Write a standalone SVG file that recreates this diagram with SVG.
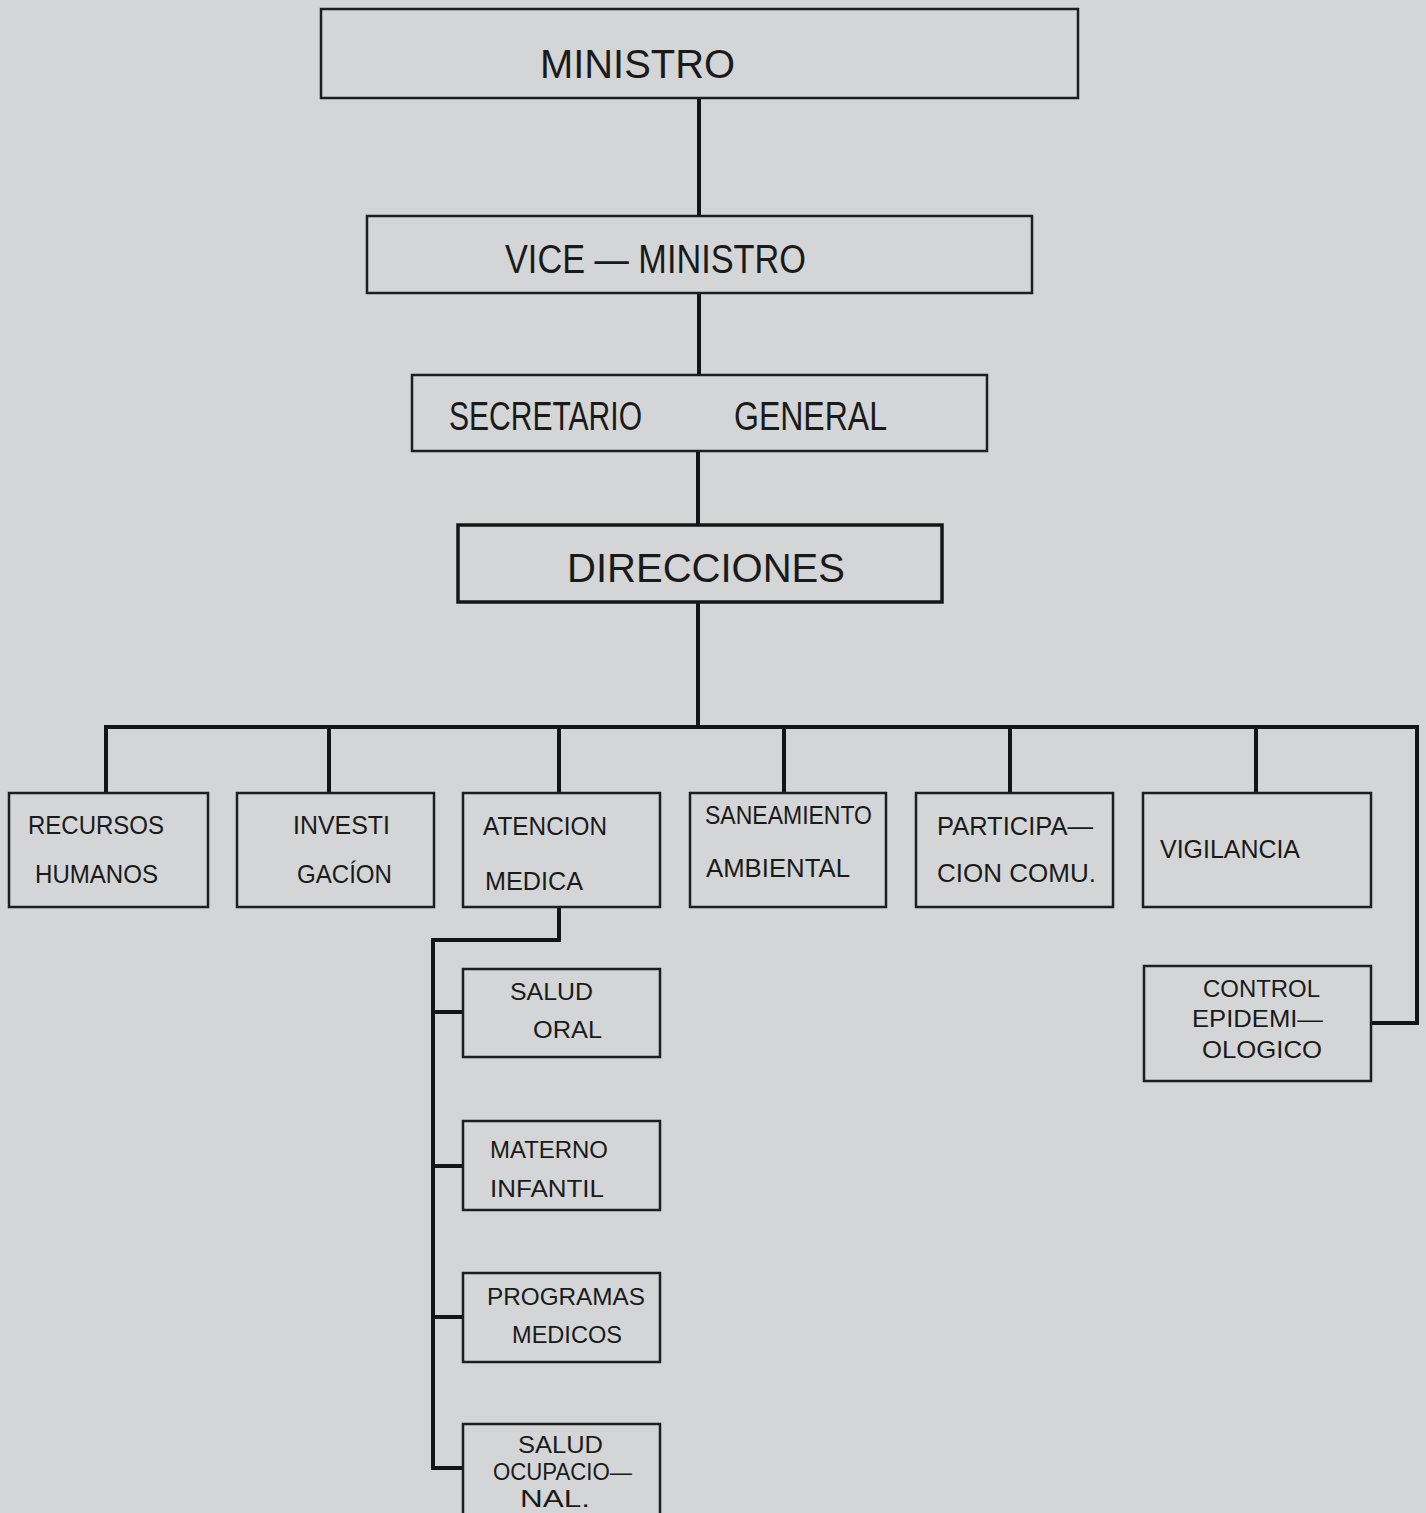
<svg xmlns="http://www.w3.org/2000/svg" width="1426" height="1513" viewBox="0 0 1426 1513">
<style>
.box{fill:none;stroke:#1e1e1e;stroke-width:2.5}
.boxb{fill:none;stroke:#161616;stroke-width:3.5}
.con{fill:none;stroke:#141414;stroke-width:4;stroke-linejoin:miter}
text{font-family:"Liberation Sans",Arial,sans-serif;fill:#1a1a1a}
.t1{font-size:40px}
.t2{font-size:25px}
.t3{font-size:24px}
.t4{font-size:23px}
</style>
<rect x="0" y="0" width="1426" height="1513" fill="#d3d5d7"/>
<g id="connectors">
<path class="con" d="M699,98 V216"/>
<path class="con" d="M699,293 V375"/>
<path class="con" d="M698,451 V525"/>
<path class="con" d="M698,602 V727"/>
<path class="con" d="M106,793 V727 H1417 V1023 H1372"/>
<path class="con" d="M329,727 V793"/>
<path class="con" d="M559,727 V793"/>
<path class="con" d="M784,727 V793"/>
<path class="con" d="M1010,727 V793"/>
<path class="con" d="M1256,727 V793"/>
<path class="con" d="M559,907 V940 H433 V1468 H463"/>
<path class="con" d="M433,1012 H463"/>
<path class="con" d="M433,1166 H463"/>
<path class="con" d="M433,1317 H463"/>
</g>
<g id="ministro">
<rect class="box" x="321" y="9" width="757" height="89"/>
<text class="t1" x="540" y="78" textLength="195" lengthAdjust="spacingAndGlyphs">MINISTRO</text>
</g>
<g id="vice-ministro">
<rect class="box" x="367" y="216" width="665" height="77"/>
<text class="t1" x="505" y="273" textLength="301" lengthAdjust="spacingAndGlyphs">VICE — MINISTRO</text>
</g>
<g id="secretario">
<rect class="box" x="412" y="375" width="575" height="76"/>
<text class="t1" x="449" y="430" textLength="193" lengthAdjust="spacingAndGlyphs">SECRETARIO</text>
<text class="t1" x="734" y="430" textLength="153" lengthAdjust="spacingAndGlyphs">GENERAL</text>
</g>
<g id="direcciones">
<rect class="boxb" x="458" y="525" width="484" height="77"/>
<text class="t1" x="567" y="582" textLength="278" lengthAdjust="spacingAndGlyphs">DIRECCIONES</text>
</g>
<g id="recursos">
<rect class="box" x="9" y="793" width="199" height="114"/>
<text class="t2" x="28" y="834" textLength="136" lengthAdjust="spacingAndGlyphs">RECURSOS</text>
<text class="t2" x="35" y="883" textLength="123" lengthAdjust="spacingAndGlyphs">HUMANOS</text>
</g>
<g id="investigacion">
<rect class="box" x="237" y="793" width="197" height="114"/>
<text class="t2" x="293" y="834" textLength="97" lengthAdjust="spacingAndGlyphs">INVESTI</text>
<text class="t2" x="297" y="883" textLength="95" lengthAdjust="spacingAndGlyphs">GACÍON</text>
</g>
<g id="atencion">
<rect class="box" x="463" y="793" width="197" height="114"/>
<text class="t2" x="483" y="835" textLength="124" lengthAdjust="spacingAndGlyphs">ATENCION</text>
<text class="t2" x="485" y="890" textLength="98" lengthAdjust="spacingAndGlyphs">MEDICA</text>
</g>
<g id="saneamiento">
<rect class="box" x="690" y="793" width="196" height="114"/>
<text class="t2" x="705" y="824" textLength="167" lengthAdjust="spacingAndGlyphs">SANEAMIENTO</text>
<text class="t2" x="706" y="877" textLength="144" lengthAdjust="spacingAndGlyphs">AMBIENTAL</text>
</g>
<g id="participacion">
<rect class="box" x="916" y="793" width="197" height="114"/>
<text class="t2" x="937" y="835" textLength="156" lengthAdjust="spacingAndGlyphs">PARTICIPA—</text>
<text class="t2" x="937" y="882" textLength="159" lengthAdjust="spacingAndGlyphs">CION  COMU.</text>
</g>
<g id="vigilancia">
<rect class="box" x="1143" y="793" width="228" height="114"/>
<text class="t2" x="1160" y="858" textLength="140" lengthAdjust="spacingAndGlyphs">VIGILANCIA</text>
</g>
<g id="control">
<rect class="box" x="1144" y="966" width="227" height="115"/>
<text class="t3" x="1203" y="997" textLength="117" lengthAdjust="spacingAndGlyphs">CONTROL</text>
<text class="t3" x="1192" y="1027" textLength="131" lengthAdjust="spacingAndGlyphs">EPIDEMI—</text>
<text class="t3" x="1202" y="1058" textLength="120" lengthAdjust="spacingAndGlyphs">OLOGICO</text>
</g>
<g id="salud-oral">
<rect class="box" x="463" y="969" width="197" height="88"/>
<text class="t3" x="510" y="1000" textLength="83" lengthAdjust="spacingAndGlyphs">SALUD</text>
<text class="t3" x="533" y="1038" textLength="69" lengthAdjust="spacingAndGlyphs">ORAL</text>
</g>
<g id="materno">
<rect class="box" x="463" y="1121" width="197" height="89"/>
<text class="t3" x="490" y="1158" textLength="118" lengthAdjust="spacingAndGlyphs">MATERNO</text>
<text class="t3" x="490" y="1197" textLength="114" lengthAdjust="spacingAndGlyphs">INFANTIL</text>
</g>
<g id="programas">
<rect class="box" x="463" y="1273" width="197" height="89"/>
<text class="t3" x="487" y="1305" textLength="158" lengthAdjust="spacingAndGlyphs">PROGRAMAS</text>
<text class="t3" x="512" y="1343" textLength="110" lengthAdjust="spacingAndGlyphs">MEDICOS</text>
</g>
<g id="salud-ocupacional">
<rect class="box" x="463" y="1424" width="197" height="100"/>
<text class="t4" x="518" y="1453" textLength="85" lengthAdjust="spacingAndGlyphs">SALUD</text>
<text class="t4" x="493" y="1480" textLength="139" lengthAdjust="spacingAndGlyphs">OCUPACIO—</text>
<text class="t4" x="520" y="1507" textLength="70" lengthAdjust="spacingAndGlyphs">NAL.</text>
</g>
</svg>
